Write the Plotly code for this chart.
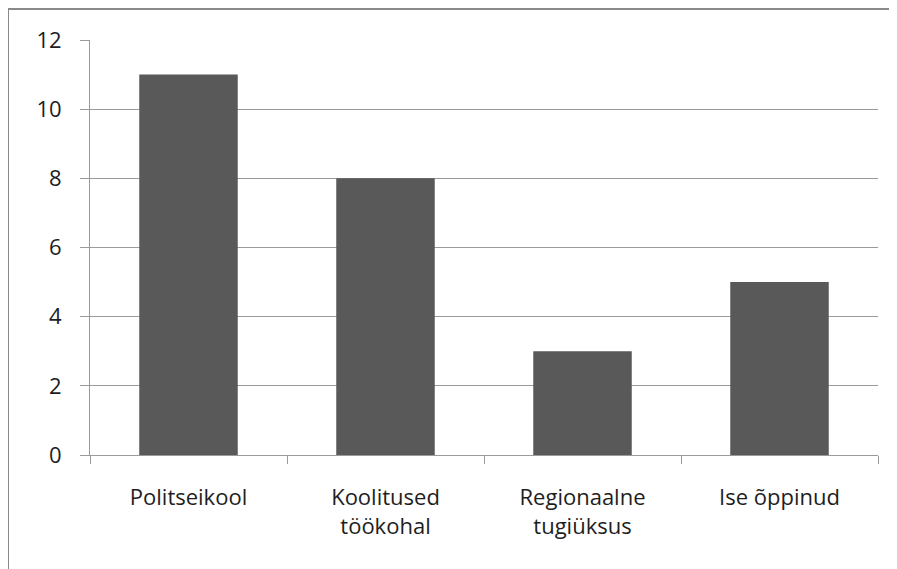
import plotly.graph_objects as go

categories = ["Politseikool", "Koolitused<br>töökohal", "Regionaalne<br>tugiüksus", "Ise õppinud"]
values = [11, 8, 3, 5]
y_ticks = [0, 2, 4, 6, 8, 10, 12]

# page body adds an 8px offset; compensate so the plot area lands where the reference has it
OFF = 8
W, H = 897, 569
L, R, T, B = 90 - OFF, 19 + OFF, 40 - OFF, 114 + OFF
pw, ph = W - L - R, H - T - B

fig = go.Figure(go.Bar(x=categories, y=values, marker=dict(color="#595959", line=dict(width=0)), width=0.5))

def px_x(p):
    return (p - L) / pw

def px_y(p):
    return (H - B - p) / ph

fig.update_layout(
    width=W, height=H,
    margin=dict(l=L, r=R, t=T, b=B),
    paper_bgcolor="white", plot_bgcolor="white",
    font=dict(family="Open Sans", size=22, color="#1e1e1e"),
    showlegend=False,
    shapes=[dict(type="rect", xref="paper", yref="paper",
                 x0=px_x(0), x1=px_x(910), y0=px_y(585), y1=px_y(1),
                 line=dict(color="#8a8a8a", width=2), fillcolor="rgba(0,0,0,0)", layer="below")],
)
fig.update_xaxes(
    type="category", showgrid=False, showline=True, linecolor="#9a9a9a", linewidth=1,
    ticks="outside", tickson="boundaries", ticklen=8, tickcolor="#9a9a9a",
    ticklabelstandoff=23, range=[-0.5, 3.5],
)
fig.update_yaxes(
    range=[0, 12], tickvals=y_ticks, showgrid=True, gridcolor="#9a9a9a", gridwidth=1,
    showline=True, linecolor="#9a9a9a", linewidth=1, ticks="outside", ticklen=9,
    tickcolor="#9a9a9a", ticklabelstandoff=14, zeroline=False,
)

fig.write_html("out.html")
